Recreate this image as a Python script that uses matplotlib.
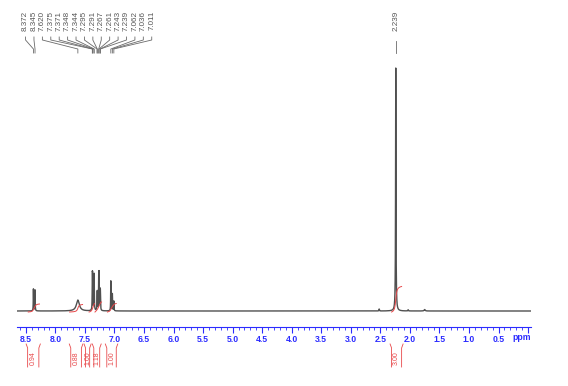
import numpy as np
import matplotlib
matplotlib.use("Agg")
import matplotlib.pyplot as plt
from matplotlib.transforms import blended_transform_factory
from matplotlib.ticker import MultipleLocator

# ---- peak list (ppm, intensity in % of tallest, half width in ppm) ----
shifts = [8.372, 8.345, 7.620, 7.375, 7.371, 7.348, 7.344, 7.295, 7.291,
          7.267, 7.261, 7.243, 7.239, 7.062, 7.036, 7.011, 2.239,
          2.52, 2.03, 1.75]
heights = [9.0, 8.6, 4.5, 11.5, 11.5, 10.8, 10.8, 5.7, 5.7,
           13.4, 13.4, 6.3, 6.3, 12.3, 7.0, 4.0, 100.0,
           0.8, 0.5, 0.6]
widths = [0.003, 0.003, 0.03, 0.003, 0.003, 0.003, 0.003, 0.003, 0.003,
          0.003, 0.003, 0.003, 0.003, 0.003, 0.003, 0.003, 0.004,
          0.004, 0.004, 0.01]

# labelled peaks (top of plot)
group_labels = ["8.372", "8.345", "7.620", "7.375", "7.371", "7.348", "7.344",
                "7.295", "7.291", "7.267", "7.261", "7.243", "7.239",
                "7.062", "7.036", "7.011"]
single_label = "2.239"

# integrals
integ_values = ["0.94", "0.88", "1.00", "1.18", "1.00", "3.00"]
region_left = [8.46, 7.76, 7.43, 7.33, 7.12, 2.31]
region_right = [8.27, 7.54, 7.34, 7.22, 6.97, 2.14]
box_left = [8.47, 7.74, 7.49, 7.35, 7.13, 2.31]
box_right = [8.28, 7.56, 7.42, 7.25, 6.97, 2.14]

W, H = 568, 386
blue = "#2b2bff"
red = "#e8484a"

x = np.linspace(8.65, -0.05, 40000)
spec = np.zeros_like(x)
broad = np.zeros_like(x)
for s, h, w in zip(shifts, heights, widths):
    spec += h * w**2 / ((x - s)**2 + w**2)
    broad += h * w * 0.015 / ((x - s)**2 + 0.015**2)

fig = plt.figure(figsize=(W / 100, H / 100), dpi=100)
ax = fig.add_axes([17 / W, (H - 327) / H, 514 / W, (327 - 60) / H])
px = 100 / 243  # intensity units per pixel
ax.plot(x, spec, color="#505050", lw=1.0)
ax.set_xlim(8.65, -0.05)
ax.set_ylim(-16 * px, 251 * px)

# integral traces
for a, b, v in zip(region_left, region_right, integ_values):
    m = (x <= a) & (x >= b)
    c = np.cumsum(broad[m])
    c = (c - c[0]) / (c[-1] - c[0])
    ax.plot(x[m], -1 * px + c * float(v) * 8.5 * px, color=red, lw=0.7)

for sp in ["left", "right", "top"]:
    ax.spines[sp].set_visible(False)
ax.spines["bottom"].set_color(blue)
ax.spines["bottom"].set_linewidth(0.8)
ax.set_yticks([])
ax.xaxis.set_minor_locator(MultipleLocator(0.1))
ax.tick_params(axis="x", which="major", length=4, width=0.8, color=blue,
               labelcolor=blue, labelsize=6.2, pad=2)
ax.tick_params(axis="x", which="minor", length=2, width=0.6, color=blue)
ticks = np.arange(0, 8.51, 0.5)
ax.set_xticks(ticks)
ax.set_xticklabels(["" if t < 0.25 else f"{t:.1f}" for t in ticks],
                   fontweight="bold", family="Liberation Sans")
fig.text(522 / W, 1 - 338 / H, "ppm", color=blue, fontsize=6.2, fontweight="bold",
         family="Liberation Sans", ha="center", va="center")

tr = blended_transform_factory(ax.transData, fig.transFigure)
fy = lambda p: 1 - p / H
to_ppm = lambda p: 8.9458 - p / 59.0

# peak labels, evenly spaced over the aromatic group
lab_pos = [to_ppm(26 + 8.4 * i) for i in range(len(group_labels))]
for lx, txt in zip(lab_pos, group_labels):
    pk = float(txt)
    ax.text(lx, fy(11), txt, transform=tr, rotation=90, ha="center", va="top",
            fontsize=5.8, color="#555555", family="Liberation Sans")
    ax.plot([lx, lx, pk, pk], [fy(37), fy(40), fy(49), fy(53)], transform=tr,
            color="#6a6a6a", lw=0.6, clip_on=False)
pk = float(single_label)
ax.text(pk, fy(11), single_label, transform=tr, rotation=90, ha="center",
        va="top", fontsize=5.8, color="#555555", family="Liberation Sans")
ax.plot([pk, pk], [fy(41), fy(53)], transform=tr, color="#6a6a6a", lw=0.6,
        clip_on=False)

# integral brackets under the axis
for bl, br, v in zip(box_left, box_right, integ_values):
    ax.plot([bl + 0.025, bl, bl], [fy(344), fy(348), fy(367)], transform=tr,
            color=red, lw=0.6, clip_on=False)
    ax.plot([br - 0.025, br, br], [fy(344), fy(348), fy(367)], transform=tr,
            color=red, lw=0.6, clip_on=False)
    ax.text((bl + br) / 2, fy(358), v, transform=tr, rotation=90, ha="center",
            va="center", fontsize=5, color=red, family="Liberation Sans")

fig.savefig("out.png", dpi=100)
